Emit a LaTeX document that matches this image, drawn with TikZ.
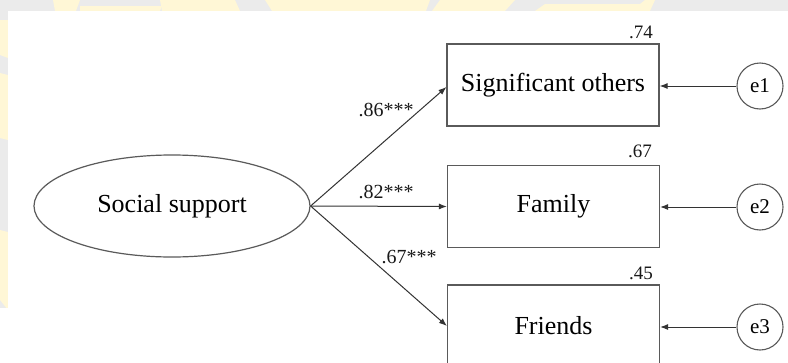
\documentclass[tikz,border=0pt]{standalone}
\usepackage{fontspec}
\setmainfont{Liberation Serif}
\usetikzlibrary{arrows.meta,shapes.geometric}
\definecolor{wmgray}{HTML}{EBEBEB}
\definecolor{wmyellow}{HTML}{FFF7D6}
\definecolor{linecol}{HTML}{333333}
\definecolor{boxcol}{HTML}{5A5A5A}
\tikzset{
  indicator/.style={draw=boxcol, line width=1.2pt, minimum width=212pt, minimum height=82pt,
    inner sep=0pt, font=\fontsize{26}{30}\selectfont},
  latent/.style={ellipse, draw=boxcol, line width=1.2pt, minimum width=276pt, minimum height=102pt,
    inner sep=0pt, font=\fontsize{26}{30}\selectfont},
  errterm/.style={circle, draw=boxcol, line width=1.1pt, minimum size=46pt, inner sep=0pt,
    font=\fontsize{21}{24}\selectfont},
  path/.style={draw=linecol, line width=1pt, -{Latex[length=8pt,width=6pt]}},
  coef/.style={font=\fontsize{20}{24}\selectfont, text=black!90, inner sep=0pt},
  rsq/.style={font=\fontsize{19}{22}\selectfont, text=black!90, inner sep=0pt}
}
\begin{document}
\begin{tikzpicture}[x=1pt,y=-1pt]
\useasboundingbox (0,0) rectangle (788,362);
% page frame with faint watermark strip
\fill[wmgray] (0,0) rectangle (788,362);
\fill[wmyellow] (53,0) -- (80,0) -- (76,11) -- (55,11) -- cycle;
\fill[wmyellow] (80,6) -- (162,6) -- (160,11) -- (80,11) -- cycle;
\fill[wmyellow] (160,0) -- (235,0) -- (240,11) -- (162,11) -- cycle;
\fill[wmyellow] (265,0) -- (430,0) -- (426,11) -- (272,11) -- cycle;
\fill[wmyellow] (440,0) -- (515,0) -- (505,11) -- (432,11) -- cycle;
\fill[wmyellow] (545,4) -- (640,4) -- (645,0) -- (655,0) -- (650,11) -- (535,11) -- cycle;
\fill[wmyellow] (0,20) -- (8,20) -- (8,58) -- (0,55) -- cycle;
\fill[wmyellow] (0,73) -- (8,75) -- (8,140) -- (0,138) -- cycle;
\fill[wmyellow] (0,230) -- (8,232) -- (8,310) -- (0,300) -- cycle;
\fill[white] (8,11) rectangle (788,362);
\fill[white] (0,308) rectangle (8,362);

% latent factor
\node[latent] (ss) at (172,206) {Social support};

% indicators
\node[indicator] (so) at (553,85) {Significant others};
\node[indicator] (fa) at (553.5,206.5) {Family};
\node[indicator] (fr) at (553.5,326) {Friends};

% squared multiple correlations
\node[rsq] (r1) at (641,32) {.74};
\node[rsq] (r2) at (640,151) {.67};
\node[rsq] (r3) at (641,273) {.45};

% error terms
\node[errterm] (e1) at (760,86) {e1};
\node[errterm] (e2) at (760,207) {e2};
\node[errterm] (e3) at (760,327) {e3};

% loadings
\draw[path] (ss.east) -- ([yshift=-2pt]so.west);
\draw[path] (ss.east) -- (fa.west);
\draw[path] (ss.east) -- (fr.west);
\node[coef] (l1) at (386,110) {.86***};
\node[coef] (l2) at (386,192) {.82***};
\node[coef] (l3) at (409,257) {.67***};

% error paths
\draw[path] (e1.west) -- (so.east |- e1.west);
\draw[path] (e2.west) -- (fa.east |- e2.west);
\draw[path] (e3.west) -- (fr.east |- e3.west);
\end{tikzpicture}
\end{document}
